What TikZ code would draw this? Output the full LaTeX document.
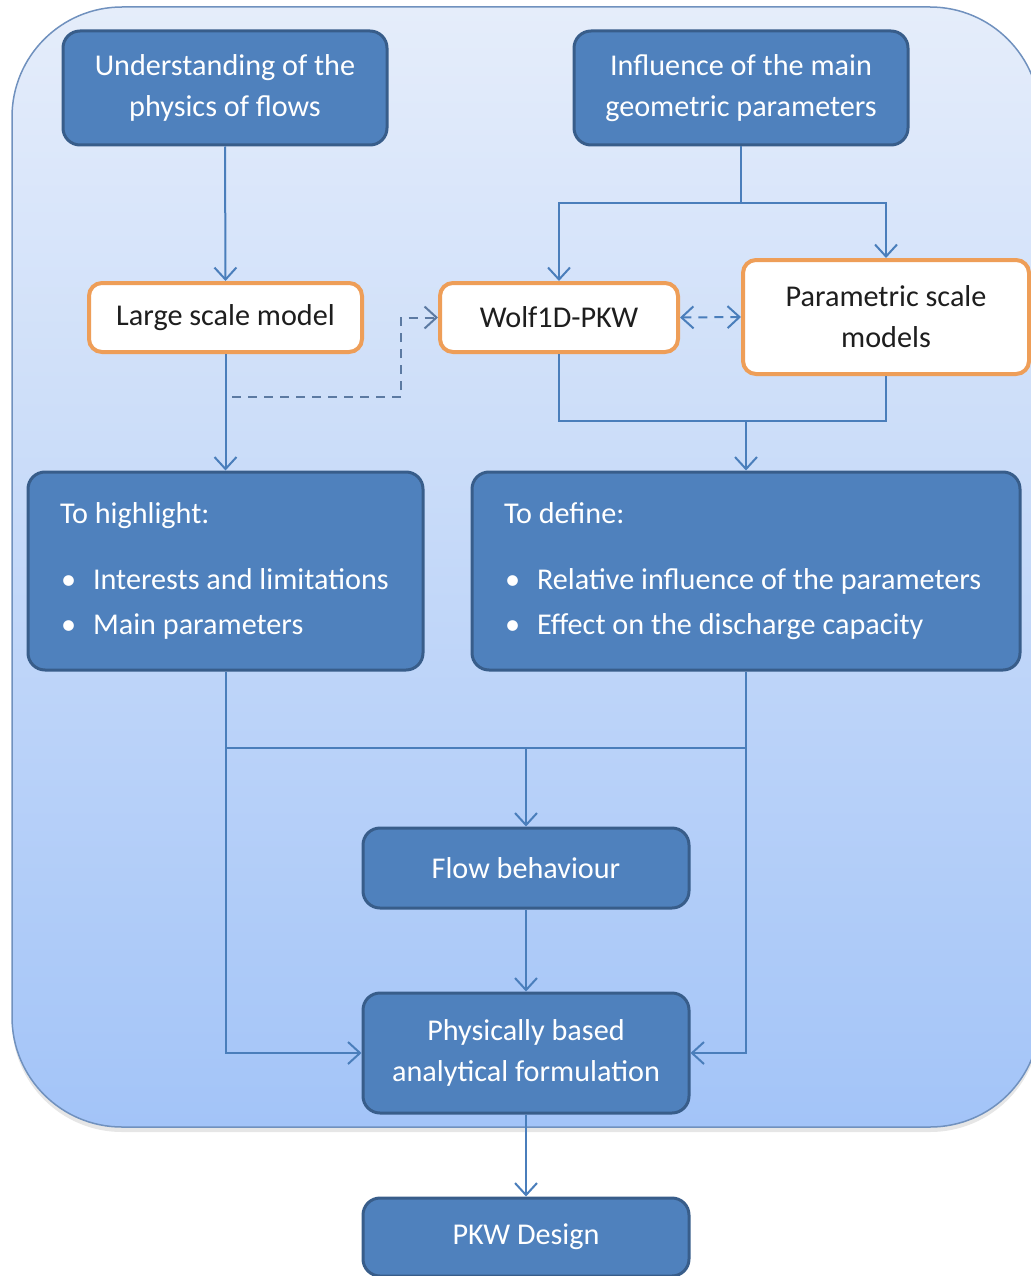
\documentclass[tikz,border=0pt]{standalone}
\usepackage{fontspec}
\setmainfont{Carlito}
\usetikzlibrary{arrows.meta,shadows}
\definecolor{boxblue}{RGB}{79,129,189}
\definecolor{boxedge}{RGB}{56,93,138}
\definecolor{linkblue}{RGB}{74,126,187}
\definecolor{dashcol}{RGB}{92,122,162}
\definecolor{orangeedge}{RGB}{238,158,88}
\definecolor{paneltop}{RGB}{229,237,250}
\definecolor{panelbot}{RGB}{163,196,248}
\definecolor{paneledge}{RGB}{112,145,190}
\definecolor{darktext}{RGB}{30,30,30}
\newcommand{\bitem}[1]{\mbox{\hspace*{1pt}\textbullet\hspace{17pt}#1}}
\begin{document}
\begin{tikzpicture}[x=1pt,y=-1pt,
  every node/.style={font=\fontsize{30.2}{41}\selectfont},
  bluebox/.style={draw=boxedge, line width=3pt, fill=boxblue, rounded corners=17pt,
    text=white, align=center, inner sep=0pt},
  whitebox/.style={draw=orangeedge, line width=4pt, fill=white, rounded corners=13pt,
    text=darktext, align=center, inner sep=0pt},
  link/.style={draw=linkblue, line width=2pt},
  tip/.style={-{Straight Barb[length=12pt,width=22pt,line width=2pt]}},
  dlink/.style={draw=dashcol, line width=2pt, dash pattern=on 9pt off 7pt},
]
\useasboundingbox (0,0) rectangle (1030,1276);
% background panel
\node[draw=paneledge, line width=1.5pt, rounded corners=110pt, top color=paneltop, bottom color=panelbot,
  minimum width=1028pt, minimum height=1120pt, inner sep=0pt,
  drop shadow={opacity=0.2, shadow xshift=0pt, shadow yshift=-5pt}] (panel) at (526,567) {};

% nodes
\node[bluebox, minimum width=324pt, minimum height=114pt] (und) at (225,88) {Understanding of the\\physics of flows};
\node[bluebox, minimum width=334pt, minimum height=114pt] (inf) at (741,88) {Influence of the main\\geometric parameters};
\node[whitebox, minimum width=273pt, minimum height=69pt] (lsm) at (225.5,317.5) {Large scale model};
\node[whitebox, minimum width=238pt, minimum height=69pt] (wolf) at (559,317.5) {Wolf1D-PKW};
\node[whitebox, minimum width=286pt, minimum height=114pt] (par) at (886,317) {Parametric scale\\models};
\node[bluebox, minimum width=395pt, minimum height=198pt, align=flush left, text width=331pt] (hl) at (225.5,571)
  {\mbox{To highlight:}\\[25pt]\bitem{Interests and limitations}\\[4pt]\bitem{Main parameters}};
\node[bluebox, minimum width=548pt, minimum height=198pt, align=flush left, text width=484pt] (def) at (746,571)
  {\mbox{To define:}\\[25pt]\bitem{Relative influence of the parameters}\\[4pt]\bitem{Effect on the discharge capacity}};
\node[bluebox, minimum width=326pt, minimum height=80pt] (flow) at (526,868) {Flow behaviour};
\node[bluebox, minimum width=326pt, minimum height=120pt] (phys) at (526,1053) {Physically based\\analytical formulation};
\node[bluebox, minimum width=326pt, minimum height=78pt] (pkw) at (526,1237) {PKW Design};

% junctions
\coordinate (ij) at (741,203);
\coordinate (wj) at (746,421);
\coordinate (mj) at (526,748);
\coordinate (ds) at (232,397);
\coordinate (dc) at (401,397);

% connectors
\draw[link,tip] (und.south) -- (lsm.north);
\draw[link] (inf.south) -- (ij);
\draw[link,tip] (ij) -| (wolf.north);
\draw[link,tip] (ij) -| (par.north);
\draw[link,tip] (lsm.south) -- (hl.north);
\draw[link] (wolf.south) |- (wj);
\draw[link] (par.south) |- (wj);
\draw[link,tip] (wj) -- (def.north);
\draw[dlink,tip] (ds) -- (dc) |- (wolf.west);
\draw[dlink,draw=linkblue,{Straight Barb[length=12pt,width=22pt,line width=2pt]}-{Straight Barb[length=12pt,width=22pt,line width=2pt]}] (wolf.east) -- (par.west);
\draw[link,tip] (hl.south) |- (phys.west);
\draw[link,tip] (def.south) |- (phys.east);
\draw[link] (hl.south |- mj) -- (def.south |- mj);
\draw[link,tip] (mj) -- (flow.north);
\draw[link,tip] (flow.south) -- (phys.north);
\draw[link,tip] (phys.south) -- (pkw.north);
\end{tikzpicture}
\end{document}
